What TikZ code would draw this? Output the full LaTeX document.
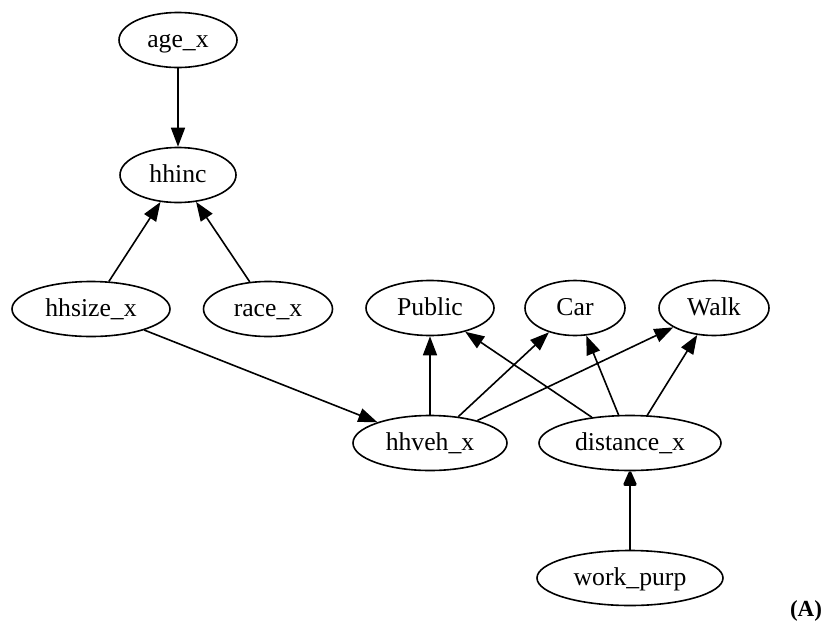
\documentclass[tikz,border=0pt]{standalone}
\usepackage{fontspec}
\setmainfont{Liberation Serif}
\usetikzlibrary{shapes.geometric,arrows.meta}
\tikzset{
  var/.style={ellipse, draw, line width=1.6pt, inner sep=0pt, minimum height=55pt,
    font=\fontsize{25.7}{28}\selectfont, text height=14pt, text depth=0pt},
  edge/.style={line width=1.6pt, -{Triangle[length=19pt,width=14pt]}},
  boldedge/.style={line width=1.6pt, -{Triangle[length=17pt,width=14pt,line width=3pt,round]}},
}
\begin{document}
\begin{tikzpicture}[x=1pt,y=-1pt]
\useasboundingbox (0,0) rectangle (832,627);
\node[var, minimum width=118pt] (age) at (178,40) {age\_x};
\node[var, minimum width=116pt] (hhinc) at (178,175) {hhinc};
\node[var, minimum width=158pt] (hhsize) at (91,309) {hhsize\_x};
\node[var, minimum width=129pt] (race) at (268,309) {race\_x};
\node[var, minimum width=128pt] (public) at (430,308) {Public};
\node[var, minimum width=100pt] (car) at (575,308) {Car};
\node[var, minimum width=110pt] (walk) at (714,308) {Walk};
\node[var, minimum width=154pt] (hhveh) at (430,443) {hhveh\_x};
\node[var, minimum width=182pt] (dist) at (630,443) {distance\_x};
\node[var, minimum width=186pt] (work) at (630,578) {work\_purp};
\node[font=\fontsize{23}{26}\selectfont\bfseries] (lab) at (806,611) {(A)};
\draw[edge] (age) -- (hhinc);
\draw[edge] (hhsize) -- (hhinc);
\draw[edge] (race) -- (hhinc);
\draw[edge] (hhsize) -- (hhveh);
\draw[edge] (hhveh) -- (public);
\draw[edge] (hhveh) -- (car);
\draw[edge] (hhveh) -- (walk);
\draw[edge] (dist) -- (public);
\draw[edge] (dist) -- (car);
\draw[edge] (dist) -- (walk);
\draw[boldedge] (work) -- (dist);
\end{tikzpicture}
\end{document}
